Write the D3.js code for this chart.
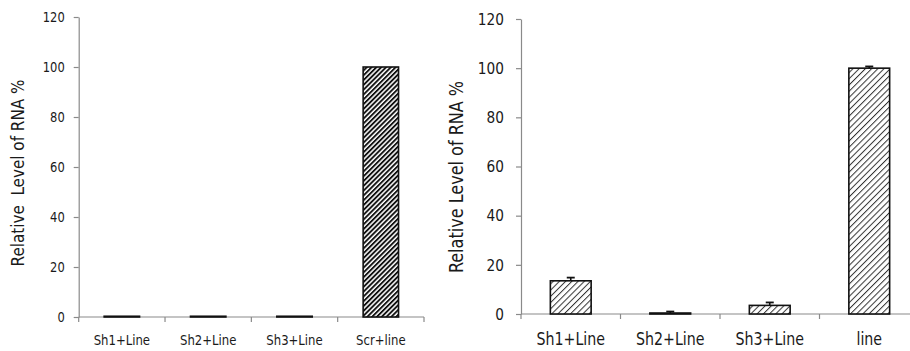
<!DOCTYPE html>
<html><head><meta charset="utf-8">
<script src="https://cdn.jsdelivr.net/npm/d3@7"></script>
<style>
html,body{margin:0;padding:0;background:#fff;}
svg{display:block;}
text{font-family:"DejaVu Sans Condensed","Liberation Sans",sans-serif;fill:#1a1a1a;}
</style></head>
<body>
<svg id="chart" width="910" height="351"></svg>
<script>
// ---- data ----
const leftCategories = ["Sh1+Line", "Sh2+Line", "Sh3+Line", "Scr+line"];
const leftValues = [0.3, 0.3, 0.3, 100];
const leftErrors = [0, 0, 0, 0];
const rightCategories = ["Sh1+Line", "Sh2+Line", "Sh3+Line", "line"];
const rightValues = [13.5, 0.4, 3.5, 100];
const rightErrors = [1.3, 0.6, 1.2, 0.7];
const yTicks = [0, 20, 40, 60, 80, 100, 120];
const leftTitle = "Relative  Level of RNA %";
const rightTitle = "Relative Level of RNA %";

const FONT = '"DejaVu Sans Condensed","Liberation Sans",sans-serif';
const svg = d3.select("#chart");
const defs = svg.append("defs");

// dense dark hatch (left)
const p1 = defs.append("pattern").attr("id", "hatchDark").attr("patternUnits", "userSpaceOnUse")
  .attr("width", 3.4).attr("height", 3.4).attr("patternTransform", "rotate(45)");
p1.append("rect").attr("width", 3.4).attr("height", 3.4).attr("fill", "#fff");
p1.append("rect").attr("width", 1.9).attr("height", 3.4).attr("fill", "#111");
// light hatch (right)
const p2 = defs.append("pattern").attr("id", "hatchLight").attr("patternUnits", "userSpaceOnUse")
  .attr("width", 4.4).attr("height", 4.4).attr("patternTransform", "rotate(45)");
p2.append("rect").attr("width", 4.4).attr("height", 4.4).attr("fill", "#fff");
p2.append("rect").attr("width", 1.0).attr("height", 4.4).attr("fill", "#333");

function squeeze(sel, f) {
  sel.each(function () {
    const w = this.getComputedTextLength();
    d3.select(this).attr("textLength", w * f).attr("lengthAdjust", "spacingAndGlyphs");
  });
}

function panel(cfg) {
  const g = svg.append("g");
  const y = d3.scaleLinear().domain([0, 120]).range([cfg.y0, cfg.y120]);
  const x = d3.scaleBand().domain(cfg.cats).range([cfg.xl, cfg.xr]).padding(0);
  const bw = x.bandwidth() * cfg.barFrac;

  // y axis
  const ya = g.append("g").attr("transform", `translate(${cfg.xl},0)`)
    .call(d3.axisLeft(y).tickValues(yTicks).tickSize(5).tickPadding(cfg.tickPad).tickSizeOuter(0));
  ya.select(".domain").attr("stroke", "#8a8a8a").attr("stroke-width", 1.2);
  ya.selectAll(".tick line").attr("stroke", "#8a8a8a").attr("stroke-width", 1.2);
  ya.selectAll(".tick text").attr("font-size", cfg.tickFont)
    .style("font-family", FONT).attr("fill", "#1a1a1a");
  squeeze(ya.selectAll(".tick text"), 0.94);

  // x axis (labels centered, ticks at boundaries)
  const xa = g.append("g").attr("transform", `translate(0,${cfg.y0})`)
    .call(d3.axisBottom(x).tickSize(0).tickPadding(cfg.catPad).tickSizeOuter(0));
  xa.select(".domain").remove();
  xa.selectAll(".tick text").attr("font-size", cfg.catFont).attr("fill", "#1a1a1a")
    .style("font-family", FONT);
  squeeze(xa.selectAll(".tick text"), 0.94);
  g.append("line").attr("x1", cfg.xl).attr("x2", cfg.xr).attr("y1", cfg.y0).attr("y2", cfg.y0)
    .attr("stroke", "#8a8a8a").attr("stroke-width", 1.2);
  const bounds = cfg.cats.map(c => x(c)).concat([cfg.xr]);
  g.selectAll(".bt").data(bounds).enter().append("line")
    .attr("x1", d => d).attr("x2", d => d).attr("y1", cfg.y0).attr("y2", cfg.y0 + 5)
    .attr("stroke", "#8a8a8a").attr("stroke-width", 1.2);

  // bars
  const data = cfg.cats.map((c, i) => ({c, v: cfg.vals[i], e: cfg.errs[i]}));
  g.selectAll(".bar").data(data).enter().append("rect")
    .attr("x", d => x(d.c) + (x.bandwidth() - bw) / 2)
    .attr("y", d => y(d.v))
    .attr("width", bw)
    .attr("height", d => y(0) - y(d.v))
    .attr("fill", cfg.fill)
    .attr("stroke", "#111").attr("stroke-width", 1.6);

  // error bars
  const eb = data.filter(d => d.e > 0);
  g.selectAll(".ev").data(eb).enter().append("line")
    .attr("x1", d => x(d.c) + x.bandwidth() / 2).attr("x2", d => x(d.c) + x.bandwidth() / 2)
    .attr("y1", d => y(d.v)).attr("y2", d => y(d.v + d.e))
    .attr("stroke", "#111").attr("stroke-width", 1.6);
  g.selectAll(".ec").data(eb).enter().append("line")
    .attr("x1", d => x(d.c) + x.bandwidth() / 2 - 4).attr("x2", d => x(d.c) + x.bandwidth() / 2 + 4)
    .attr("y1", d => y(d.v + d.e)).attr("y2", d => y(d.v + d.e))
    .attr("stroke", "#111").attr("stroke-width", 1.8);

  // y title
  const t = g.append("text")
    .attr("transform", `translate(${cfg.titleX},${cfg.titleY}) rotate(-90)`)
    .attr("text-anchor", "middle").attr("font-size", cfg.titleFont)
    .style("font-family", FONT)
    .attr("fill", "#1a1a1a").attr("xml:space", "preserve").style("white-space", "pre")
    .text(cfg.title);
  squeeze(t, 0.95);
}

panel({cats: leftCategories, vals: leftValues, errs: leftErrors,
  xl: 78.7, xr: 424, y0: 317, y120: 17, barFrac: 0.41, fill: "url(#hatchDark)",
  tickFont: 13.6, tickPad: 9, catFont: 13.8, catPad: 18, title: leftTitle,
  titleX: 24, titleY: 173, titleFont: 17.8});

panel({cats: rightCategories, vals: rightValues, errs: rightErrors,
  xl: 521, xr: 919, y0: 314, y120: 19, barFrac: 0.41, fill: "url(#hatchLight)",
  tickFont: 16.2, tickPad: 12, catFont: 16.8, catPad: 19, title: rightTitle,
  titleX: 463, titleY: 177, titleFont: 18.8});
</script>
</body></html>
